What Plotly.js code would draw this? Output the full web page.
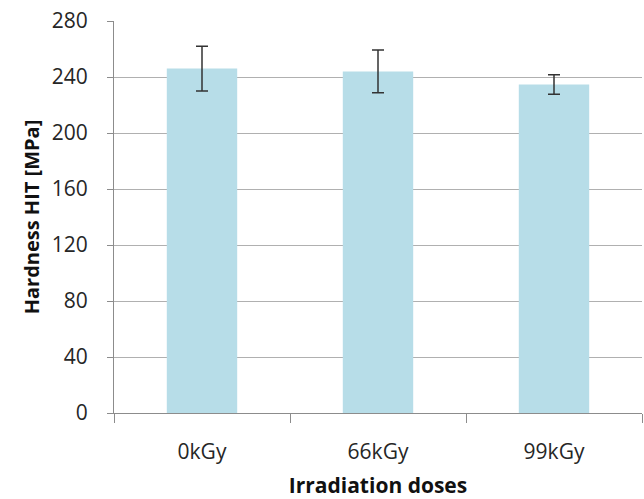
<!DOCTYPE html>
<html>
<head>
<meta charset="utf-8">
<script src="https://cdn.plot.ly/plotly-3.0.1.min.js"></script>
<style>
  html, body { margin: 0; padding: 0; background: #ffffff; }
  #chart { width: 644px; height: 499px; }
</style>
</head>
<body>
<div id="chart"></div>
<script>
// Hardness by irradiation dose, with standard-deviation error bars
const doses = ['0kGy', '66kGy', '99kGy'];
const hardness = [246, 244, 234.6];
const hardnessErr = [16, 15.3, 7];
const yTicks = [0, 40, 80, 120, 160, 200, 240, 280];

const FONT = '"Open Sans", "Noto Sans", sans-serif';

const trace = {
  type: 'bar',
  x: doses,
  y: hardness,
  marker: { color: '#b7dde8', line: { width: 0 } },
  error_y: {
    type: 'data',
    array: hardnessErr,
    visible: true,
    color: '#333333',
    thickness: 1.5,
    width: 6
  },
  hoverinfo: 'x+y'
};

const layout = {
  width: 644,
  height: 499,
  margin: { l: 114, r: 2, t: 21, b: 86 },
  paper_bgcolor: '#ffffff',
  plot_bgcolor: '#ffffff',
  bargap: 0.6,
  showlegend: false,
  font: { family: FONT, color: '#262626', size: 21 },
  xaxis: {
    type: 'category',
    showline: true,
    linecolor: '#8c8c8c',
    linewidth: 1,
    ticks: 'outside',
    tickson: 'boundaries',
    ticklen: 9,
    tickcolor: '#8c8c8c',
    ticklabelstandoff: 20,
    tickfont: { family: FONT, size: 21, color: '#262626' },
    showgrid: false,
    zeroline: false,
    title: {
      text: '<b>Irradiation doses</b>',
      font: { family: FONT, size: 21, color: '#111111' },
      standoff: 17
    }
  },
  yaxis: {
    range: [0, 280],
    tickvals: yTicks,
    ticktext: yTicks.map(String),
    showline: true,
    linecolor: '#8c8c8c',
    linewidth: 1,
    ticks: 'outside',
    ticklen: 6,
    tickcolor: '#8c8c8c',
    ticklabelstandoff: 15,
    tickfont: { family: FONT, size: 21, color: '#262626' },
    showgrid: true,
    gridcolor: '#b0b0b0',
    gridwidth: 1,
    zeroline: false,
    title: {
      text: '<b>Hardness HIT [MPa]</b>',
      font: { family: FONT, size: 20, color: '#111111' },
      standoff: 6
    }
  }
};

Plotly.newPlot('chart', [trace], layout, { displayModeBar: false, staticPlot: true });
</script>
</body>
</html>
